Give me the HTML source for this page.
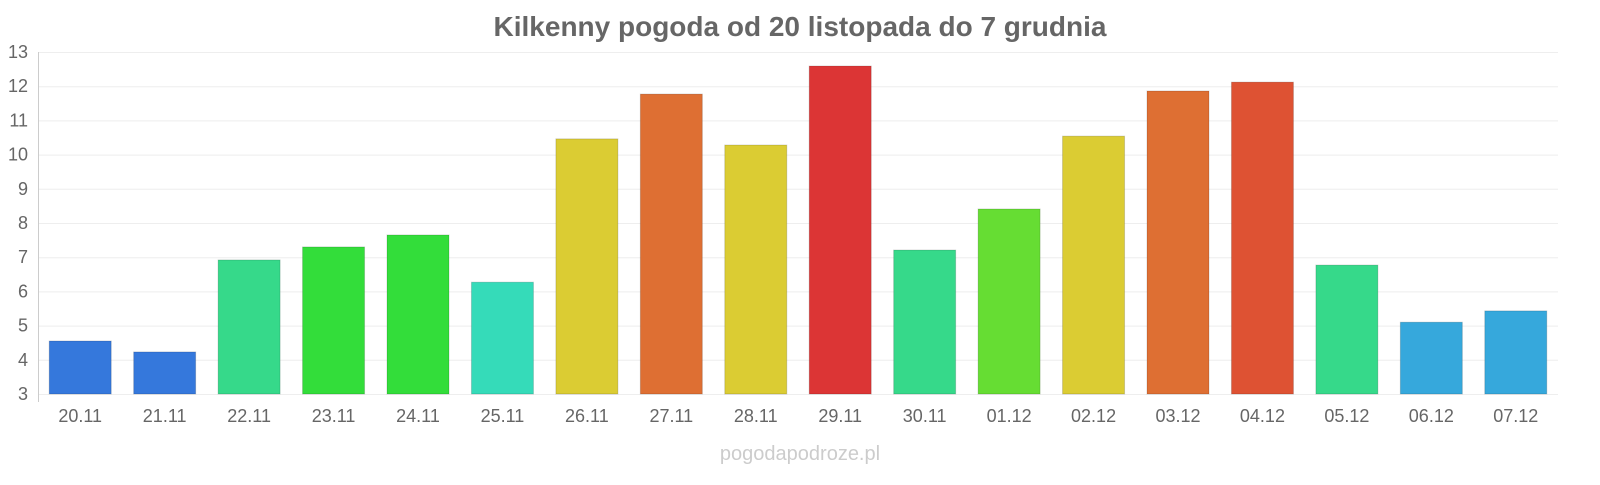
<!DOCTYPE html>
<html><head><meta charset="utf-8"><style>
body{margin:0;background:#fff;}
svg text{font-family:"Liberation Sans",sans-serif;}
</style></head><body>
<svg width="1600" height="480" viewBox="0 0 1600 480" xmlns="http://www.w3.org/2000/svg">
<text x="800" y="36" text-anchor="middle" font-size="28" font-weight="bold" fill="#666">Kilkenny pogoda od 20 listopada do 7 grudnia</text>
<g id="grid" stroke="#eee" stroke-width="1"></g>
<g id="bars"></g>
<g id="labels" fill="#666" font-size="18"></g>
<line x1="38.5" y1="52" x2="38.5" y2="402" stroke="#ccc"/>
<text x="800" y="460" text-anchor="middle" font-size="20" fill="#ccc">pogodapodroze.pl</text>
</svg>
<script>
var ns="http://www.w3.org/2000/svg";
function el(t,a,p,txt){var e=document.createElementNS(ns,t);for(var k in a)e.setAttribute(k,a[k]);if(txt!==undefined)e.textContent=txt;document.getElementById(p).appendChild(e);}
var y0=394,u=34.2;
for(var v=3;v<=13;v++){var y=y0-(v-3)*u;el('line',{x1:38,x2:1558,y1:y+.5,y2:y+.5},'grid');el('text',{x:28,y:y+6,'text-anchor':'end'},'labels',v);}
var d=[["20.11",4.55,"#3578dc"],["21.11",4.23,"#3578dc"],["22.11",6.92,"#36d98a"],["23.11",7.3,"#33dd3a"],["24.11",7.65,"#33dd3a"],["25.11",6.27,"#35dbb9"],["26.11",10.46,"#dbcc33"],["27.11",11.77,"#de6f33"],["28.11",10.28,"#dbcc33"],["29.11",12.59,"#dc3535"],["30.11",7.21,"#36d98a"],["01.12",8.41,"#66dd33"],["02.12",10.54,"#dbcc33"],["03.12",11.86,"#de6f33"],["04.12",12.12,"#de5233"],["05.12",6.77,"#36d98a"],["06.12",5.1,"#36a8dc"],["07.12",5.43,"#36a8dc"]];
var sw=(1558-38)/18;
d.forEach(function(b,i){var cx=38+sw*(i+.5);var top=y0-(b[1]-3)*u;
el('rect',{x:cx-31,y:top,width:62,height:y0-top,fill:b[2],stroke:"rgba(0,0,0,0.15)"},'bars');
el('text',{x:cx,y:422,'text-anchor':'middle'},'labels',b[0]);});
</script>
</body></html>
